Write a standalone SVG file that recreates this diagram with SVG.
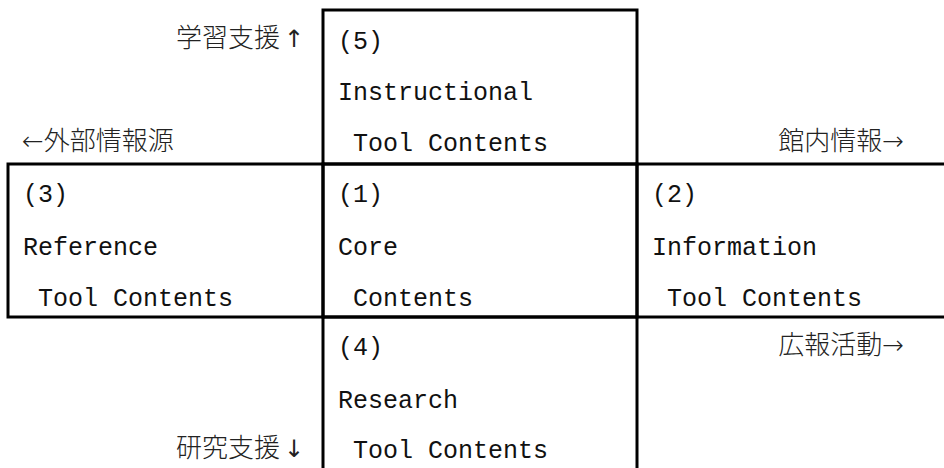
<svg xmlns="http://www.w3.org/2000/svg" width="944" height="468" viewBox="0 0 944 468">
<style>
.box{fill:none;stroke:#000;stroke-width:3}
.t{font-family:"Liberation Mono","DejaVu Sans Mono",monospace;font-size:25px;fill:#111;white-space:pre}
.j{font-family:"Noto Sans CJK JP","Noto Sans",sans-serif;font-size:26px;fill:#222;font-weight:300}
.a{font-family:"DejaVu Sans",sans-serif;font-weight:200;font-size:26px}
.v{font-family:"DejaVu Sans",sans-serif;font-weight:normal;font-size:24px}
.r{text-anchor:end}
</style>
<rect width="944" height="468" fill="#fff"/>
<g id="connectors"></g>
<g id="node5">
<rect class="box" x="323" y="10" width="314" height="154"/>
<text class="t" x="338" y="49">(5)</text>
<text class="t" x="338" y="100">Instructional</text>
<text class="t" x="353" y="151">Tool Contents</text>
</g>
<g id="node3">
<rect class="box" x="8" y="164" width="315" height="153"/>
<text class="t" x="23" y="202">(3)</text>
<text class="t" x="23" y="255">Reference</text>
<text class="t" x="38" y="306">Tool Contents</text>
</g>
<g id="node1">
<rect class="box" x="323" y="164" width="314" height="153"/>
<text class="t" x="338" y="202">(1)</text>
<text class="t" x="338" y="255">Core</text>
<text class="t" x="353" y="306">Contents</text>
</g>
<g id="node2">
<rect class="box" x="637" y="164" width="320" height="153"/>
<text class="t" x="652" y="202">(2)</text>
<text class="t" x="652" y="255">Information</text>
<text class="t" x="667" y="306">Tool Contents</text>
</g>
<g id="node4">
<rect class="box" x="323" y="317" width="314" height="160"/>
<text class="t" x="338" y="355">(4)</text>
<text class="t" x="338" y="408">Research</text>
<text class="t" x="353" y="458">Tool Contents</text>
</g>
<g id="labels">
<text class="j r" x="304" y="47">学習支援<tspan class="v" dx="4">↑</tspan></text>
<text class="j" x="22" y="150"><tspan class="a">←</tspan>外部情報源</text>
<text class="j r" x="904" y="150">館内情報<tspan class="a">→</tspan></text>
<text class="j r" x="904" y="354">広報活動<tspan class="a">→</tspan></text>
<text class="j r" x="304" y="457">研究支援<tspan class="v" dx="4">↓</tspan></text>
</g>
</svg>
